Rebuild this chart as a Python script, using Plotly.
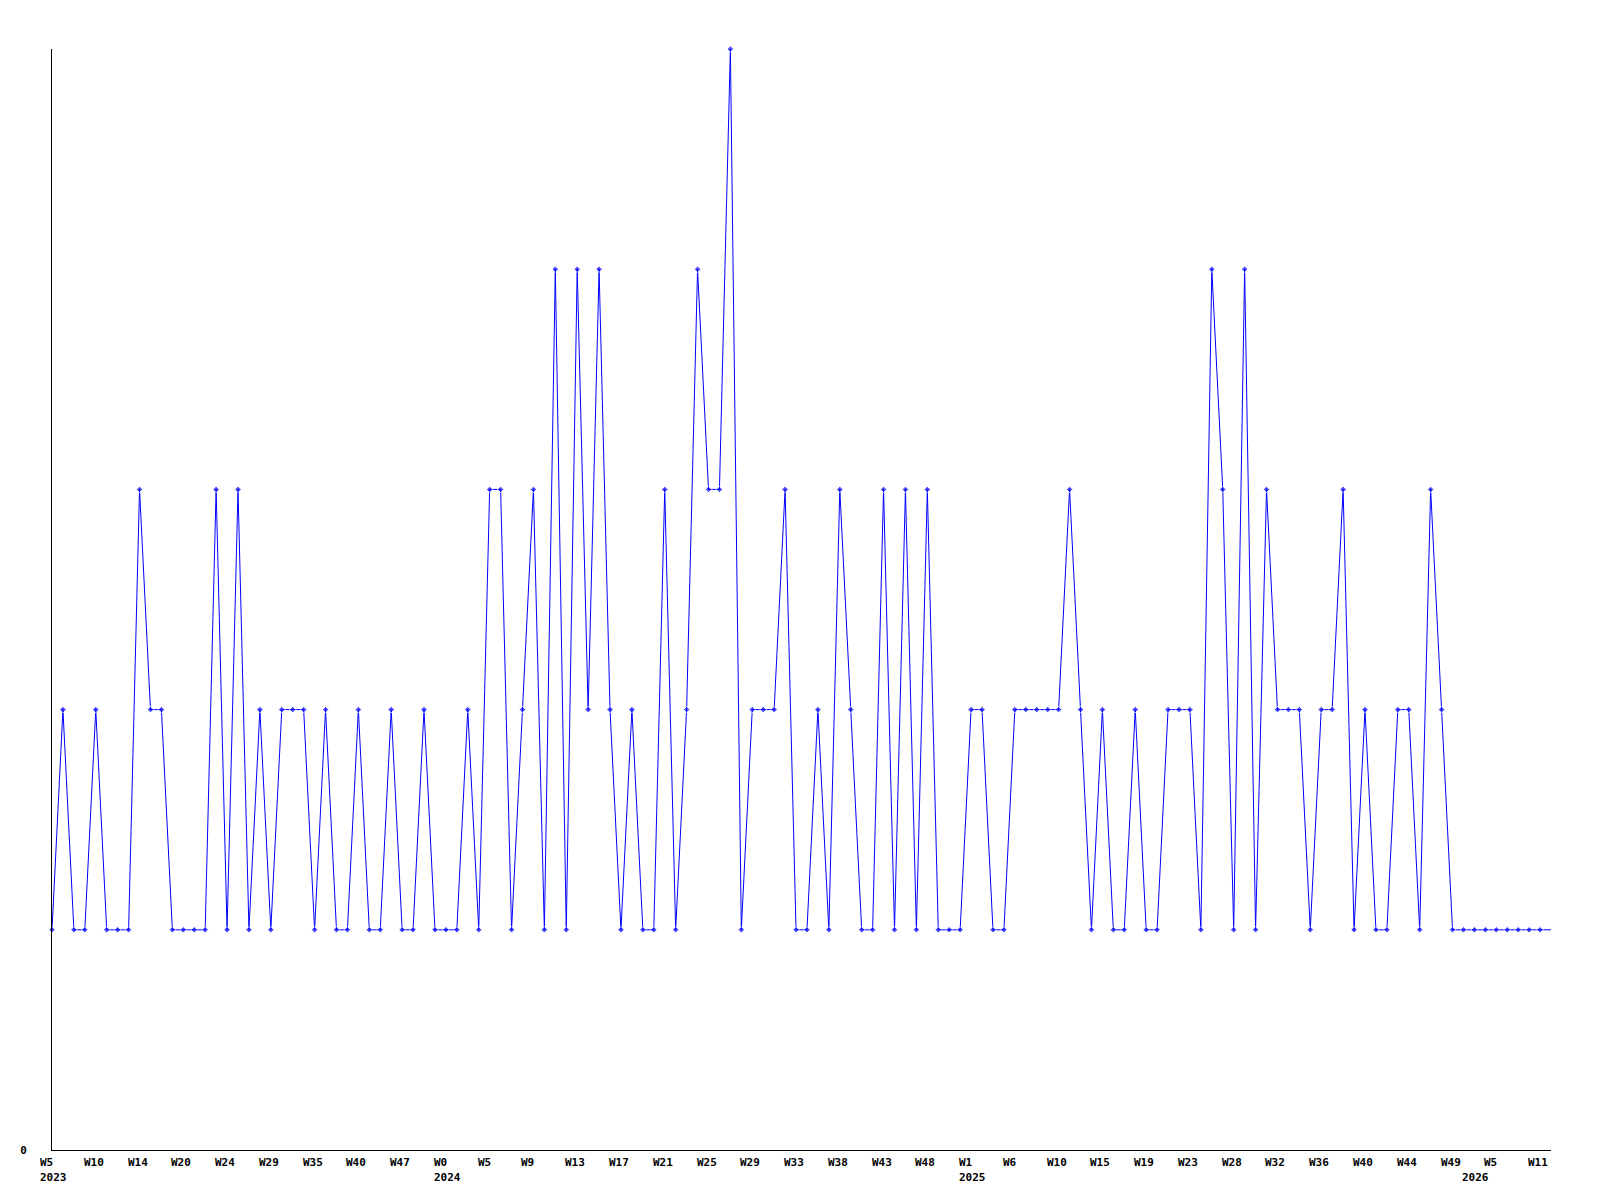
import plotly.graph_objects as go

# Weekly counts (only weeks with activity are plotted, as categories)
values = [
    1, 2, 1, 1, 2, 1, 1, 1, 3, 2,
    2, 1, 1, 1, 1, 3, 1, 3, 1, 2,
    1, 2, 2, 2, 1, 2, 1, 1, 2, 1,
    1, 2, 1, 1, 2, 1, 1, 1, 2, 1,
    3, 3, 1, 2, 3, 1, 4, 1, 4, 2,
    4, 2, 1, 2, 1, 1, 3, 1, 2, 4,
    3, 3, 5, 1, 2, 2, 2, 3, 1, 1,
    2, 1, 3, 2, 1, 1, 3, 1, 3, 1,
    3, 1, 1, 1, 2, 2, 1, 1, 2, 2,
    2, 2, 2, 3, 2, 1, 2, 1, 1, 2,
    1, 1, 2, 2, 2, 1, 4, 3, 1, 4,
    1, 3, 2, 2, 2, 1, 2, 2, 3, 1,
    2, 1, 1, 2, 2, 1, 3, 2, 1, 1,
    1, 1, 1, 1, 1, 1, 1, 1,
]

# Week labels shown on every 4th category
tick_labels = [
    "W5", "W10", "W14", "W20", "W24", "W29", "W35", "W40", "W47",
    "W0", "W5", "W9", "W13", "W17", "W21", "W25", "W29", "W33", "W38", "W43", "W48",
    "W1", "W6", "W10", "W15", "W19", "W23", "W28", "W32", "W36", "W40", "W44", "W49",
    "W5", "W11",
]
tick_step = 4

# Year labels and the category index where each year starts
year_labels = ["2023", "2024", "2025", "2026"]
year_index = [0, 36, 84, 130]

n = len(values)
x = list(range(n))
marker_sizes = [5] * (n - 1) + [0]

FONT = dict(family="DejaVu Sans Mono", size=11, color="black", weight="bold")

fig = go.Figure(
    go.Scatter(
        x=x,
        y=values,
        mode="lines+markers",
        line=dict(color="#0000ff", width=1),
        marker=dict(color="#0000ff", size=marker_sizes, symbol="diamond"),
        cliponaxis=False,
        hoverinfo="skip",
    )
)

annotations = []
for i, lab in zip(range(0, n, tick_step), tick_labels):
    annotations.append(dict(
        x=i, y=0, xref="x", yref="paper", text=lab, showarrow=False,
        xanchor="left", yanchor="middle", xshift=-13, yshift=-12.5,
        font=FONT, borderpad=0,
    ))
for i, lab in zip(year_index, year_labels):
    annotations.append(dict(
        x=i, y=0, xref="x", yref="paper", text=lab, showarrow=False,
        xanchor="left", yanchor="middle", xshift=-13, yshift=-27.5,
        font=FONT, borderpad=0,
    ))

fig.update_layout(
    width=1592,
    height=1192,
    margin=dict(l=42, r=49, t=41, b=50),
    plot_bgcolor="white",
    paper_bgcolor="white",
    showlegend=False,
    annotations=annotations,
    xaxis=dict(
        range=[0, n - 1],
        showline=True, linecolor="black", linewidth=1,
        showgrid=False, zeroline=False, showticklabels=False, ticks="",
    ),
    yaxis=dict(
        range=[0, 5],
        tickvals=[0], ticktext=["0"],
        showline=True, linecolor="black", linewidth=1,
        showgrid=False, zeroline=False, ticks="",
        tickfont=FONT, ticklabelstandoff=22,
    ),
)

fig.write_html("out.html")
